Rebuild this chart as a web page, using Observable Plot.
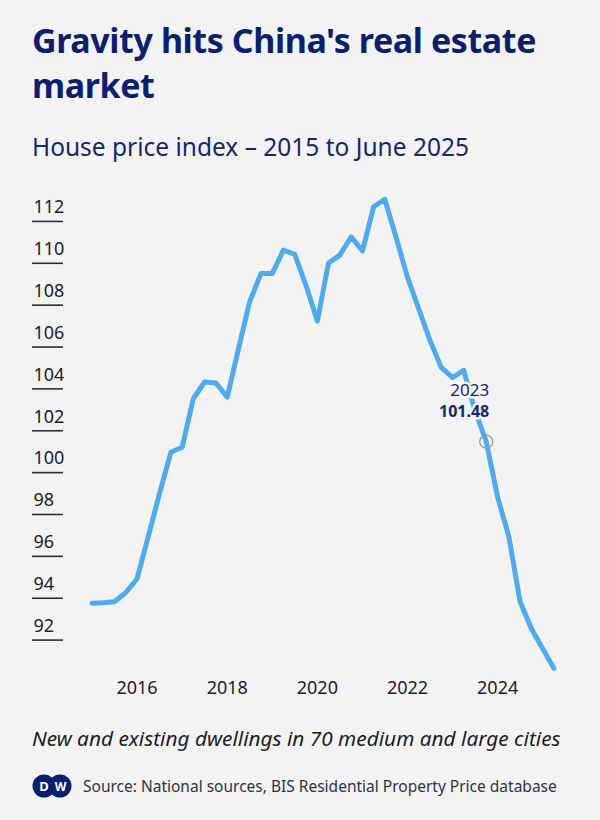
<!DOCTYPE html>
<html>
<head>
<meta charset="utf-8">
<script src="https://cdn.jsdelivr.net/npm/d3@7"></script>
<script src="https://cdn.jsdelivr.net/npm/@observablehq/plot@0.6"></script>
<style>
  html, body { margin: 0; padding: 0; }
  body { width: 600px; height: 820px; background: #f3f3f4; position: relative; overflow: hidden; font-family: "Noto Sans", sans-serif; }
  #title { position: absolute; left: 32px; top: 18px; width: 540px; font-weight: 700; font-size: 34px; line-height: 45px; color: #0b1f6e; letter-spacing: -0.4px; }
  #subtitle { position: absolute; left: 32px; top: 130px; font-size: 24.5px; color: #16276a; }
  #chart { position: absolute; left: 0; top: 170px; }
  #caption { position: absolute; left: 32px; top: 724px; font-size: 20.8px; font-style: italic; color: #1d1d1f; }
  #source { position: absolute; left: 32px; top: 774px; display: flex; align-items: center; font-size: 15.5px; color: #2c3442; }
  #source svg { margin-right: 11px; }
</style>
</head>
<body>
<div id="title">Gravity hits China's real estate market</div>
<div id="subtitle">House price index – 2015 to June 2025</div>
<div id="chart"></div>
<div id="caption">New and existing dwellings in 70 medium and large cities</div>
<div id="source">
  <svg width="40" height="24" viewBox="0 0 40 24">
    <circle cx="12" cy="12" r="11.5" fill="#0b1f6e"/>
    <circle cx="28" cy="12" r="11.5" fill="#0b1f6e"/>
    <text x="12" y="16.5" text-anchor="middle" font-family="Noto Sans" font-weight="700" font-size="13" fill="#fff">D</text>
    <text x="28.5" y="16.5" text-anchor="middle" font-family="Noto Sans" font-weight="700" font-size="12" fill="#fff">W</text>
  </svg>
  <span>Source: National sources, BIS Residential Property Price database</span>
</div>
<script>
// Quarterly observations (start of quarter)
const quarters = [
  "2015-01-01","2015-04-01","2015-07-01","2015-10-01",
  "2016-01-01","2016-04-01","2016-07-01","2016-10-01",
  "2017-01-01","2017-04-01","2017-07-01","2017-10-01",
  "2018-01-01","2018-04-01","2018-07-01","2018-10-01",
  "2019-01-01","2019-04-01","2019-07-01","2019-10-01",
  "2020-01-01","2020-04-01","2020-07-01","2020-10-01",
  "2021-01-01","2021-04-01","2021-07-01","2021-10-01",
  "2022-01-01","2022-04-01","2022-07-01","2022-10-01",
  "2023-01-01","2023-04-01","2023-07-01","2023-10-01",
  "2024-01-01","2024-04-01","2024-07-01","2024-10-01",
  "2025-01-01","2025-04-01"
];
const priceIndex = [
  93.76, 93.78, 93.83, 94.26,
  94.93, 96.95, 99.00, 100.97,
  101.21, 103.53, 104.33, 104.28,
  103.61, 105.89, 108.15, 109.51,
  109.51, 110.63, 110.44, 108.95,
  107.24, 110.02, 110.39, 111.26,
  110.59, 112.70, 113.05, 111.22,
  109.33, 107.84, 106.33, 105.03,
  104.54, 104.89, 102.97, 101.48,
  98.83, 96.94, 93.83, 92.54,
  91.58, 90.65
];
const yTicks = [92, 94, 96, 98, 100, 102, 104, 106, 108, 110, 112];
const xTickYears = ["2016-01-01", "2018-01-01", "2020-01-01", "2022-01-01", "2024-01-01"];
const highlightDate = "2023-10-01";
const highlightValue = 101.48;
const highlightLabel = "2023";

const parse = d3.utcParse("%Y-%m-%d");
const data = quarters.map((q, i) => ({date: parse(q), value: priceIndex[i]}));
const hl = [{date: parse(highlightDate), value: highlightValue}];
const bg = "#f3f3f4";

const chart = Plot.plot({
  width: 600,
  height: 540,
  marginLeft: 91.5,
  marginRight: 46.6,
  marginTop: 30,
  marginBottom: 39,
  style: {background: "transparent", fontFamily: "Noto Sans", overflow: "visible"},
  x: {type: "utc", domain: [parse("2015-01-01"), parse("2025-04-01")], axis: null},
  y: {domain: [90.5, 113], axis: null},
  marks: [
    Plot.axisY(yTicks, {anchor: "left", tickSize: 31, dx: -28.5, fill: null, stroke: "#2a2d3a", strokeWidth: 1.6, label: null}),
    Plot.axisY(yTicks, {anchor: "left", tickSize: 0, tickPadding: 0, dx: -58.5, dy: -14, textAnchor: "start", fontSize: 18, fill: "#1b1d2a", label: null}),
    Plot.axisX(xTickYears.map(parse), {anchor: "bottom", tickSize: 0, tickPadding: 10, fontSize: 18, fill: "#1b1d2a", tickFormat: d3.utcFormat("%Y"), label: null}),
    Plot.line(data, {x: "date", y: "value", stroke: "#4faaee", strokeWidth: 5, strokeLinejoin: "round", strokeLinecap: "round"}),
    Plot.dot(hl, {x: "date", y: "value", r: 6.5, stroke: "#9a9a9a", strokeWidth: 1.3, fill: "none"}),
    Plot.text(hl, {x: "date", y: "value", text: () => highlightLabel, textAnchor: "end", dx: 3, dy: -51, fontSize: 17, fill: "#16276a", stroke: bg, strokeWidth: 5}),
    Plot.text(hl, {x: "date", y: "value", text: d => d.value.toFixed(2), textAnchor: "end", dx: 3, dy: -30, fontSize: 16, fontWeight: 700, fill: "#16276a", stroke: bg, strokeWidth: 5})
  ]
});
document.getElementById("chart").appendChild(chart);
</script>
</body>
</html>
